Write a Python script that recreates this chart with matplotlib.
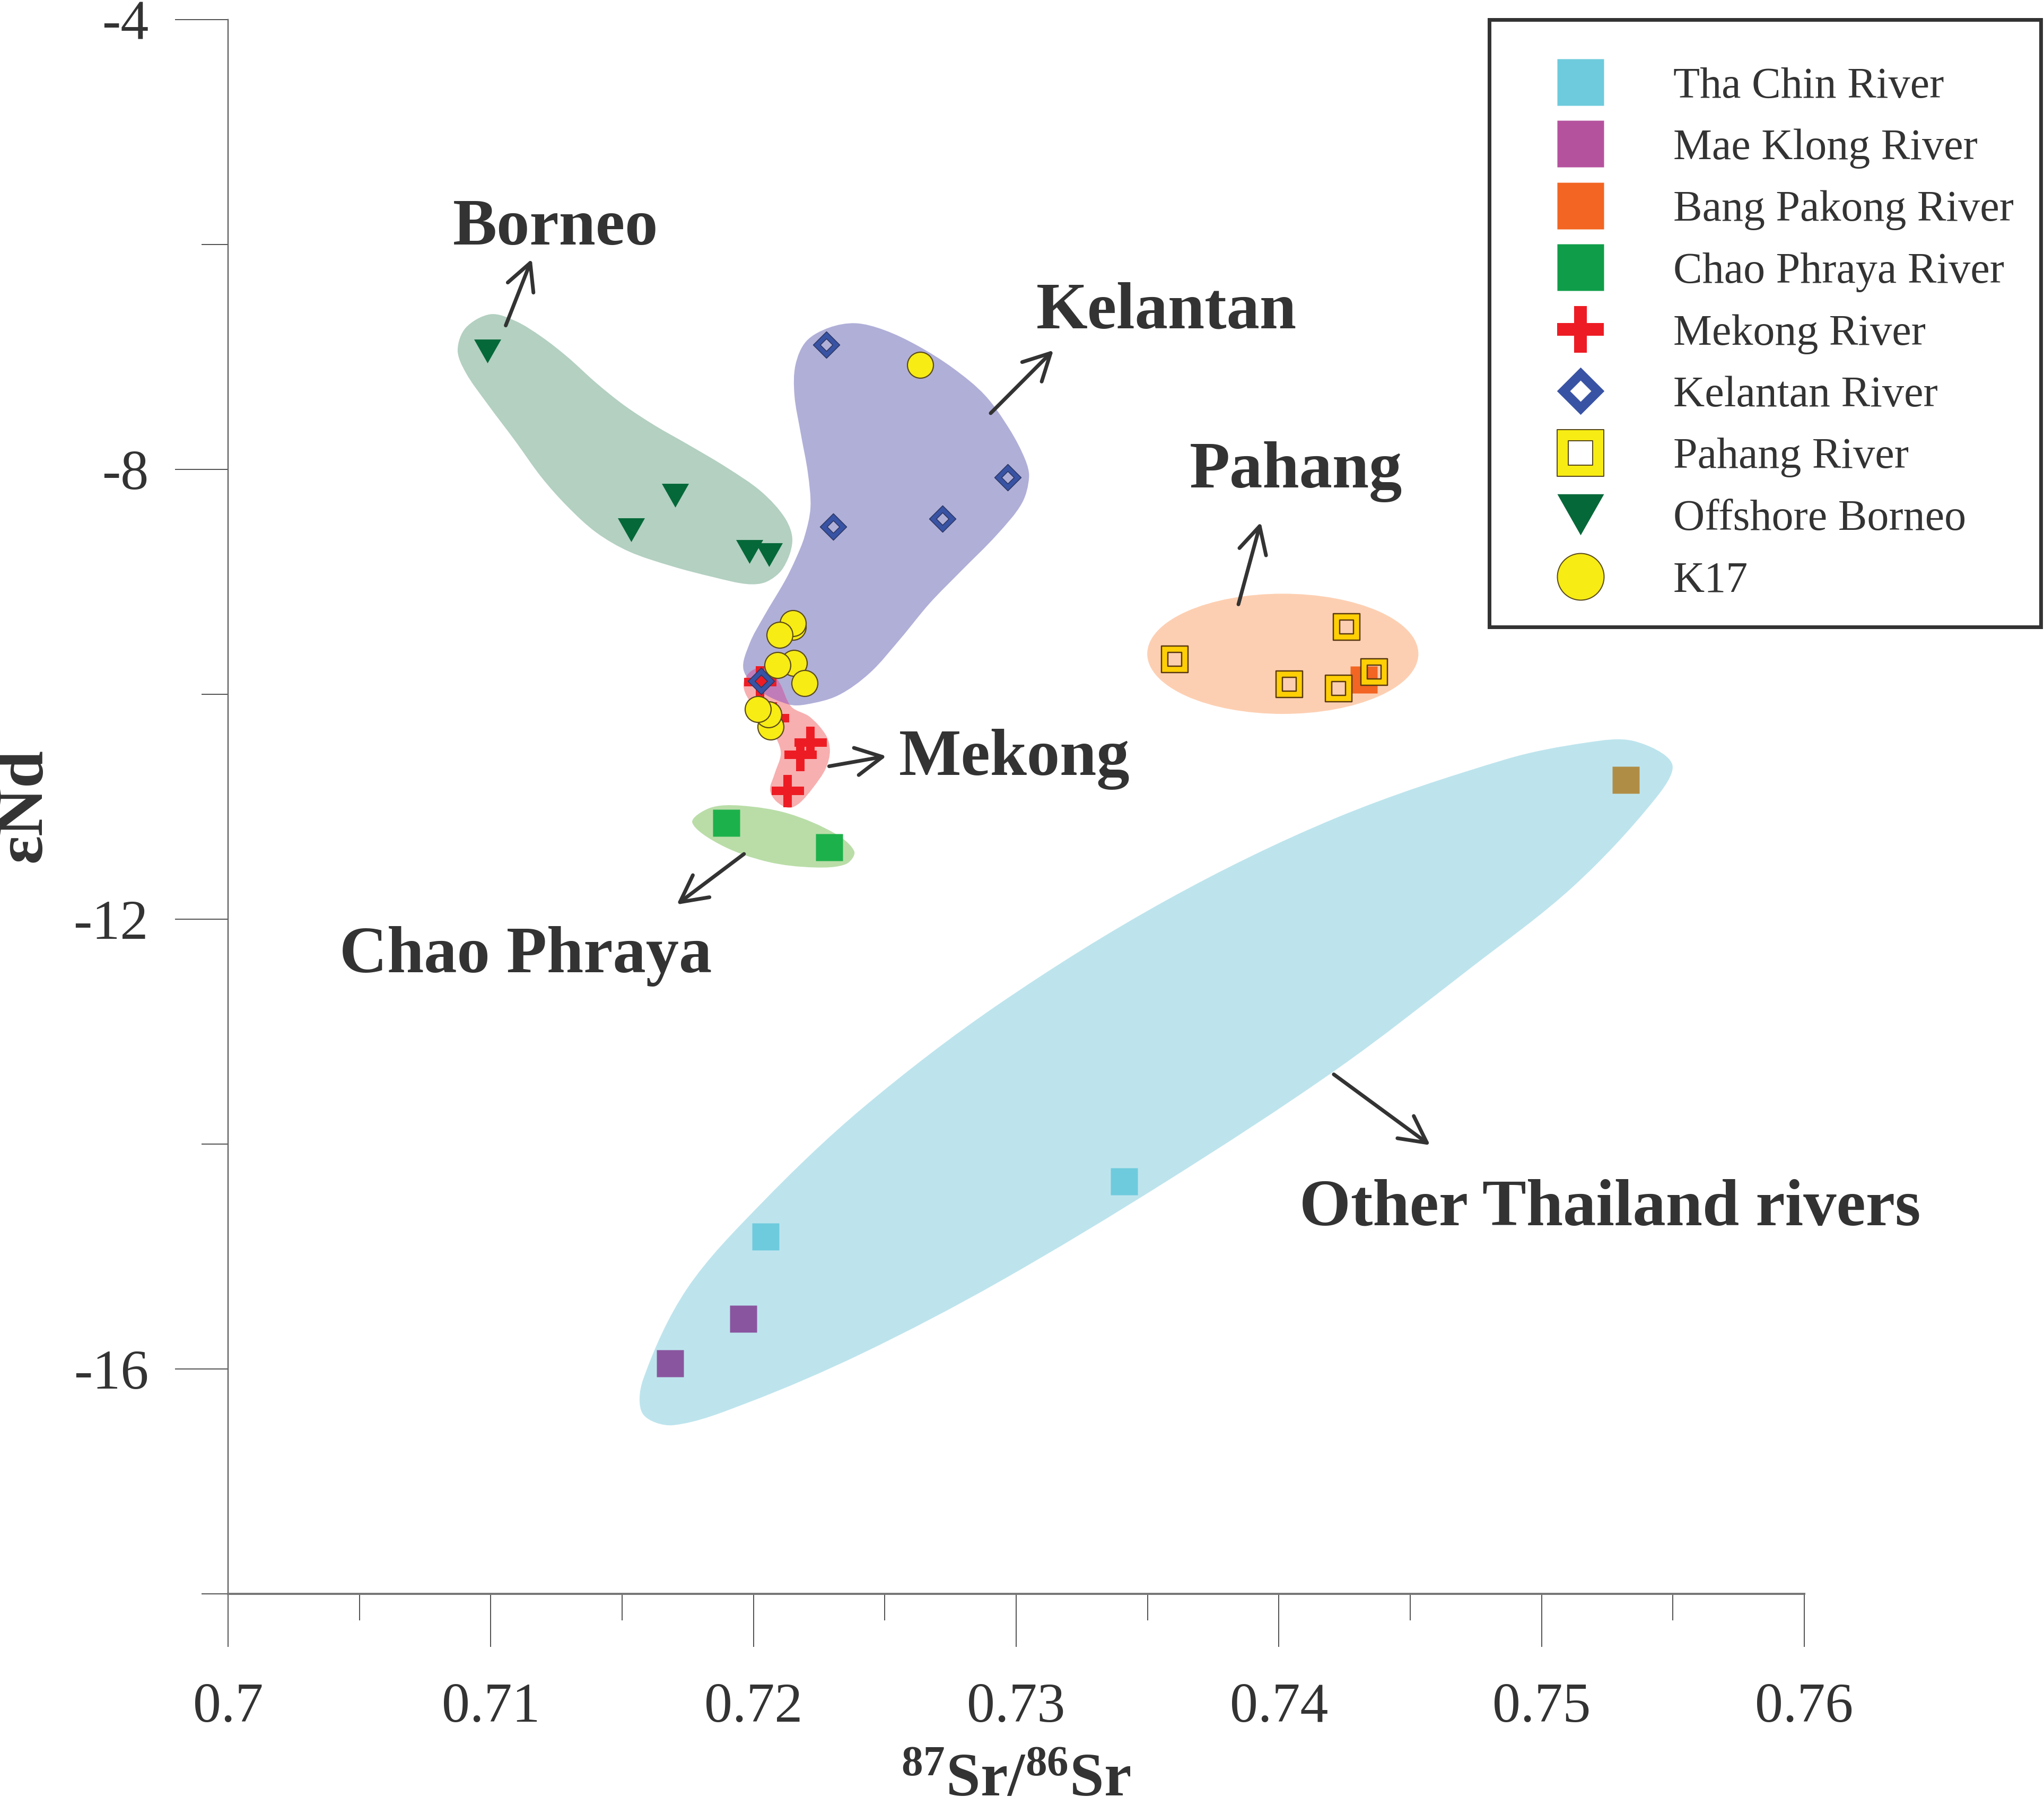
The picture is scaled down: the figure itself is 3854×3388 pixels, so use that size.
import matplotlib
matplotlib.use("Agg")
import math
import matplotlib.pyplot as plt
from matplotlib.lines import Line2D
from matplotlib.patches import Ellipse, PathPatch, Rectangle
from matplotlib.path import Path

W, H = 3854, 3388
INK = "#333333"

# sample points (87Sr/86Sr, eNd)
tha_chin_x = [0.72045, 0.7341]
tha_chin_y = [-14.82, -14.33]
mae_klong_x = [0.7196, 0.71682]
mae_klong_y = [-15.55, -15.95]
bang_pakong_x = [0.74323]
bang_pakong_y = [-9.87]
bang_pakong_far_x = [0.7532]
bang_pakong_far_y = [-10.76]
chao_phraya_x = [0.71896, 0.72288]
chao_phraya_y = [-11.14, -11.36]
mekong_x = [0.72025, 0.72073, 0.72217, 0.72178, 0.7213]
mekong_y = [-9.89, -10.21, -10.43, -10.54, -10.86]
kelantan_x = [0.72278, 0.72303, 0.7272, 0.72968, 0.72029]
kelantan_y = [-6.89, -8.51, -8.44, -8.07, -9.88]
pahang_x = [0.73603, 0.7404, 0.74228, 0.74258, 0.74363]
pahang_y = [-9.69, -9.91, -9.95, -9.40, -9.80]
borneo_x = [0.70988, 0.71534, 0.71702, 0.71985, 0.7206]
borneo_y = [-6.95, -8.54, -8.23, -8.73, -8.76]
k17_x = [0.72635, 0.7215, 0.7215, 0.721, 0.72154, 0.72092, 0.72195, 0.72065, 0.72057, 0.72017]
k17_y = [-7.07, -9.40, -9.37, -9.47, -9.72, -9.74, -9.90, -10.29, -10.18, -10.13]

# shaded field outlines
field_other_x = [0.7535, 0.75497, 0.75429, 0.7512, 0.74732, 0.74217, 0.73573, 0.72931, 0.72415, 0.71978, 0.71694,
                 0.71579, 0.71579, 0.71746, 0.72029, 0.72415, 0.72931, 0.73573, 0.74217, 0.74861, 0.7517]
field_other_y = [-10.415, -10.62, -10.94, -11.71, -12.43, -13.34, -14.33, -15.23, -15.86, -16.30, -16.50,
                 -16.40, -16.10, -15.29, -14.53, -13.68, -12.76, -11.83, -11.10, -10.58, -10.43]
field_borneo_x = [0.70999, 0.71094, 0.71193, 0.71292, 0.71401, 0.71508, 0.71625, 0.71752, 0.71896,
                  0.72031, 0.72122, 0.72148, 0.72112, 0.72049, 0.71977, 0.71851, 0.71688, 0.71526,
                  0.71401, 0.71292, 0.71193, 0.71094, 0.70985, 0.70905, 0.70874, 0.70905]
field_borneo_y = [-6.62, -6.68, -6.82, -7.00, -7.23, -7.43, -7.61, -7.78, -7.98,
                  -8.20, -8.44, -8.64, -8.88, -9.00, -9.02, -8.96, -8.86, -8.73,
                  -8.56, -8.33, -8.07, -7.75, -7.41, -7.14, -6.94, -6.74]
field_kelantan_x = [0.72388, 0.72497, 0.72625, 0.7276, 0.72881, 0.72974, 0.73034, 0.73049, 0.73022, 0.72927,
                    0.72792, 0.72671, 0.72558, 0.72443, 0.72322, 0.72201, 0.72134, 0.72025, 0.71962, 0.71985,
                    0.72039, 0.7212, 0.7216, 0.72194, 0.72217, 0.72207, 0.7218, 0.72156, 0.7216, 0.72201, 0.72287]
field_kelantan_y = [-6.70, -6.76, -6.90, -7.10, -7.34, -7.64, -7.91, -8.07, -8.30, -8.58,
                    -8.90, -9.19, -9.51, -9.81, -10.01, -10.09, -10.09, -9.97, -9.78, -9.55,
                    -9.31, -8.99, -8.80, -8.60, -8.34, -8.03, -7.68, -7.34, -7.07, -6.86, -6.74]
field_mekong_x = [0.72012, 0.72059, 0.721, 0.72144, 0.72214, 0.72275, 0.72291, 0.72275, 0.72227, 0.72174,
                  0.72134, 0.72086, 0.72063, 0.7208, 0.72104, 0.72086, 0.72025, 0.71973, 0.71962, 0.71979]
field_mekong_y = [-9.77, -9.78, -9.90, -10.11, -10.20, -10.36, -10.50, -10.66, -10.83, -10.97,
                  -11.01, -10.95, -10.85, -10.71, -10.53, -10.39, -10.19, -10.01, -9.91, -9.82]
field_chao_x = [0.71767, 0.71835, 0.71952, 0.72132, 0.72312, 0.72384, 0.72352, 0.72235, 0.72055, 0.71876]
field_chao_y = [-11.14, -11.01, -10.99, -11.06, -11.24, -11.40, -11.51, -11.54, -11.49, -11.34]

# labels and their arrows
group_names = ["Borneo", "Kelantan", "Pahang", "Mekong", "Chao Phraya", "Other Thailand rivers"]
group_label_x = [0.71246, 0.73573, 0.74065, 0.72993, 0.71132, 0.75261]
group_label_y = [-5.86, -6.60, -8.02, -10.58, -12.33, -14.58]
arrow_start_x = [0.71057, 0.72903, 0.73846, 0.72288, 0.71964, 0.74209]
arrow_start_y = [-6.72, -7.50, -9.20, -10.64, -11.42, -13.38]
arrow_end_x = [0.71156, 0.73142, 0.73931, 0.72506, 0.71708, 0.74576]
arrow_end_y = [-6.13, -6.94, -8.47, -10.55, -11.87, -14.01]

x_major = [0.70, 0.71, 0.72, 0.73, 0.74, 0.75, 0.76]
x_minor = [0.705, 0.715, 0.725, 0.735, 0.745, 0.755]
x_labels = ["0.7", "0.71", "0.72", "0.73", "0.74", "0.75", "0.76"]
y_major = [-4, -8, -12, -16]
y_minor = [-6, -10, -14, -18]
y_labels = ["-4", "-8", "-12", "-16"]

legend_names = ["Tha Chin River", "Mae Klong River", "Bang Pakong River", "Chao Phraya River",
                "Mekong River", "Kelantan River", "Pahang River", "Offshore Borneo", "K17"]


def px(n):
    # pixels to points at dpi 100
    return n * 0.72


def ring(outer, inner):
    # marker with a real hole, so whatever is under it shows through
    verts = outer + [outer[0]] + inner[::-1] + [inner[0]]
    n = len(outer)
    codes = [Path.MOVETO] + [Path.LINETO] * (n - 1) + [Path.CLOSEPOLY]
    codes = codes + [Path.MOVETO] + [Path.LINETO] * (n - 1) + [Path.CLOSEPOLY]
    return Path(verts, codes)


def square_pts(r):
    return [(-r, -r), (r, -r), (r, r), (-r, r)]


def diamond_pts(r):
    return [(0, -r), (r, 0), (0, r), (-r, 0)]


SQUARE_RING = ring(square_pts(1), square_pts(0.52))
DIAMOND_RING = ring(diamond_pts(1), diamond_pts(0.47))
TRIANGLE = Path([(-1, 0.88), (1, 0.88), (0, -0.88), (-1, 0.88)],
                [Path.MOVETO, Path.LINETO, Path.LINETO, Path.CLOSEPOLY])


def dist(a, b):
    # distance on the page, the two axes have different units
    return math.hypot((a[0] - b[0]) * 49533, (a[1] - b[1]) * 212)


def smooth_outline(xs, ys):
    # closed chord-length spline through the outline points, copes with uneven spacing
    pts = list(zip(xs, ys))
    n = len(pts)
    tangents = []
    for i in range(n):
        a, b = pts[i - 1], pts[(i + 1) % n]
        span = dist(pts[i - 1], pts[i]) + dist(pts[i], b)
        tangents.append(((b[0] - a[0]) / span, (b[1] - a[1]) / span))
    verts = [pts[0]]
    codes = [Path.MOVETO]
    for i in range(n):
        j = (i + 1) % n
        d = dist(pts[i], pts[j]) / 3
        c1 = (pts[i][0] + tangents[i][0] * d, pts[i][1] + tangents[i][1] * d)
        c2 = (pts[j][0] - tangents[j][0] * d, pts[j][1] - tangents[j][1] * d)
        verts += [c1, c2, pts[j]]
        codes += [Path.CURVE4] * 3
    return Path(verts, codes)


plt.rcParams["font.family"] = ["Liberation Serif", "DejaVu Serif"]
plt.rcParams["mathtext.fontset"] = "custom"
plt.rcParams["mathtext.bf"] = "Liberation Serif:bold"
plt.rcParams["mathtext.rm"] = "Liberation Serif"

fig = plt.figure(figsize=(W / 100, H / 100), dpi=100, facecolor="white")
ax = fig.add_axes([430 / W, 1 - 3005 / H, 2972 / W, 2968 / H])
ax.set_xlim(0.70, 0.76)
ax.set_ylim(-18, -4)

# fields
ax.add_patch(PathPatch(smooth_outline(field_other_x, field_other_y), fc="#BDE4ED", ec="none", zorder=1))
ax.add_patch(PathPatch(smooth_outline(field_borneo_x, field_borneo_y), fc="#B3D0C1", ec="none", zorder=1))
ax.add_patch(PathPatch(smooth_outline(field_chao_x, field_chao_y), fc="#BADDA8", ec="none", zorder=1))
ax.add_patch(Ellipse((0.74015, -9.64), 0.01032, 1.069, fc="#FDCFB2", ec="none", zorder=1))
kel_patch = PathPatch(smooth_outline(field_kelantan_x, field_kelantan_y), fc="#B0AFD8", ec="none", zorder=1)
ax.add_patch(kel_patch)
mek_path = smooth_outline(field_mekong_x, field_mekong_y)
ax.add_patch(PathPatch(mek_path, fc="#F7AFB0", ec="none", zorder=1.1))
overlap = PathPatch(mek_path, fc="#C07CB8", ec="none", zorder=1.2)
ax.add_patch(overlap)
overlap.set_clip_path(kel_patch)

# samples
ms = px(51)
ax.plot(tha_chin_x, tha_chin_y, ls="none", marker="s", ms=ms, mfc="#6ECBDD", mec="none", zorder=3)
ax.plot(mae_klong_x, mae_klong_y, ls="none", marker="s", ms=ms, mfc="#8A559F", mec="none", zorder=3)
ax.plot(bang_pakong_x, bang_pakong_y, ls="none", marker="s", ms=ms, mfc="#F26522", mec="none", zorder=3)
ax.plot(bang_pakong_far_x, bang_pakong_far_y, ls="none", marker="s", ms=ms, mfc="#B08D45", mec="none", zorder=3)
ax.plot(chao_phraya_x, chao_phraya_y, ls="none", marker="s", ms=ms, mfc="#1DB14B", mec="none", zorder=3)
ax.plot(mekong_x, mekong_y, ls="none", marker="+", ms=px(61), mew=px(16), mec="#ED1C24", zorder=3.1)
ax.plot(kelantan_x, kelantan_y, ls="none", marker=DIAMOND_RING, ms=px(50), mfc="#3953A4", mec="#2A3560",
        mew=px(1.5), zorder=3.2)
ax.plot(pahang_x, pahang_y, ls="none", marker=SQUARE_RING, ms=px(50), mfc="#FFCF06", mec="#5A3A10",
        mew=px(2.5), zorder=3.3)
ax.plot(borneo_x, borneo_y, ls="none", marker=TRIANGLE, ms=px(51), mfc="#056839", mec="none", zorder=3.4)
ax.plot(k17_x, k17_y, ls="none", marker="o", ms=px(49), mfc="#F7EC13", mec="#5A4A1A", mew=px(2.2), zorder=3.5)

# arrows and group names
for i in range(len(group_names)):
    ax.annotate("", xy=(arrow_end_x[i], arrow_end_y[i]), xytext=(arrow_start_x[i], arrow_start_y[i]),
                arrowprops=dict(arrowstyle="->,head_length=%f,head_width=%f" % (px(50), px(26)),
                                mutation_scale=1, lw=px(7), color=INK, shrinkA=0, shrinkB=0,
                                capstyle="round", joinstyle="round"),
                zorder=4)
    ax.text(group_label_x[i], group_label_y[i], group_names[i], ha="center", va="center",
            fontsize=px(124.5), fontweight="bold", color=INK, zorder=5)

# axes
for side in ["top", "right"]:
    ax.spines[side].set_visible(False)
ax.spines["left"].set_color("#666666")
ax.spines["left"].set_linewidth(px(2.5))
ax.spines["bottom"].set_color("#777777")
ax.spines["bottom"].set_linewidth(px(4))
ax.set_xticks(x_major)
ax.set_xticklabels(x_labels)
ax.set_xticks(x_minor, minor=True)
ax.set_yticks(y_major)
ax.set_yticklabels(y_labels)
ax.set_yticks(y_minor, minor=True)
ax.tick_params(axis="both", which="major", length=px(100), width=px(2), color="#555555",
               labelsize=px(106), labelcolor=INK)
ax.tick_params(axis="both", which="minor", length=px(50), width=px(2), color="#555555")
ax.tick_params(axis="x", which="major", pad=px(67))
ax.tick_params(axis="y", which="major", pad=px(50))

fig.text(1916 / W, 1 - 3386 / H, r"$\mathbf{^{87}Sr/^{86}Sr}$", ha="center", va="baseline",
         fontsize=px(116), color=INK)
fig.text(77 / W, 1 - 1518 / H, "\u03b5Nd", rotation=90, rotation_mode="anchor", ha="center",
         va="baseline", fontsize=px(126), fontweight="bold", color=INK)

# legend
fig.add_artist(Rectangle((2808 / W, 1 - 1182 / H), 1040 / W, 1145 / H, transform=fig.transFigure,
                         fc="white", ec="#333333", lw=px(7), zorder=5))
big = px(88)
handles = [
    Line2D([], [], ls="none", marker="s", ms=big, mfc="#6ECBDD", mec="none"),
    Line2D([], [], ls="none", marker="s", ms=big, mfc="#B5529E", mec="none"),
    Line2D([], [], ls="none", marker="s", ms=big, mfc="#F26522", mec="none"),
    Line2D([], [], ls="none", marker="s", ms=big, mfc="#0F9D49", mec="none"),
    Line2D([], [], ls="none", marker="+", ms=big, mew=px(24), mec="#ED1C24"),
    Line2D([], [], ls="none", marker=DIAMOND_RING, ms=big, mfc="#3953A4", mec="#3953A4", mew=px(1)),
    Line2D([], [], ls="none", marker=SQUARE_RING, ms=big, mfc="#F7EC13", mec="#5A4A1A", mew=px(2)),
    Line2D([], [], ls="none", marker=TRIANGLE, ms=big, mfc="#056839", mec="none"),
    Line2D([], [], ls="none", marker="o", ms=big, mfc="#F7EC13", mec="#5A4A1A", mew=px(2)),
]
leg = fig.legend(handles, legend_names, loc="upper left", bbox_to_anchor=(2936 / W, 1 - 126 / H),
                 bbox_transform=fig.transFigure, frameon=False, fontsize=px(82), borderpad=0,
                 borderaxespad=0, handlelength=88 / 82, handleheight=0.7, handletextpad=131 / 82,
                 labelspacing=0.5, labelcolor=INK)
leg.set_zorder(6)

fig.savefig("out.png", dpi=100, facecolor="white")
